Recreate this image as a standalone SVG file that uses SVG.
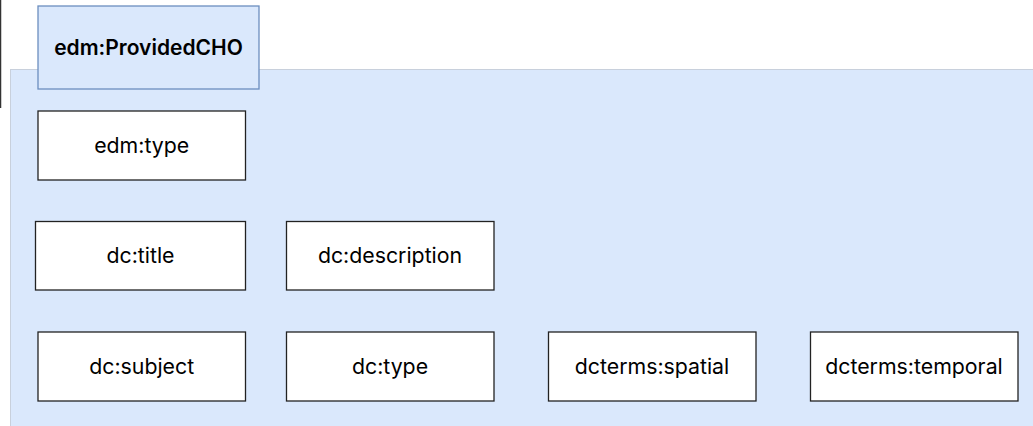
<svg xmlns="http://www.w3.org/2000/svg" width="1033" height="426" viewBox="0 0 1033 426">
<style>
.bg{fill:#dae8fc;stroke:#c8d0dc;stroke-width:1}
.box{fill:#ffffff;stroke:#222222;stroke-width:1.3}
.hdr{fill:#dae8fc;stroke:#6c8ebf;stroke-width:1.3}
text{font-family:Inter,"Liberation Sans",sans-serif;font-size:21.3px;fill:#000000;text-anchor:middle;dominant-baseline:central}
.b{font-weight:600;font-size:21px}
</style>
<rect width="1033" height="426" fill="#ffffff"/>
<line x1="0.5" y1="0" x2="0.5" y2="108" stroke="#333333" stroke-width="1.5"/>
<g id="container"><rect class="bg" x="10.5" y="69.5" width="1030" height="370"/></g>
<g id="providedcho"><rect class="hdr" x="38" y="6" width="221" height="83"/><text class="b" x="148.5" y="47">edm:ProvidedCHO</text></g>
<g id="edm-type"><rect class="box" x="38" y="111" width="207.5" height="69"/><text x="141.7" y="145">edm:type</text></g>
<g id="dc-title"><rect class="box" x="35.5" y="221.5" width="210" height="68.5"/><text x="140.5" y="255">dc:title</text></g>
<g id="dc-description"><rect class="box" x="286.5" y="221.5" width="207.5" height="68.5"/><text x="390" y="255">dc:description</text></g>
<g id="dc-subject"><rect class="box" x="38" y="332" width="207.5" height="69"/><text x="141.7" y="366">dc:subject</text></g>
<g id="dc-type"><rect class="box" x="286.5" y="332" width="207.5" height="69"/><text x="390" y="366">dc:type</text></g>
<g id="dcterms-spatial"><rect class="box" x="548.5" y="332" width="207.5" height="69"/><text x="652" y="366">dcterms:spatial</text></g>
<g id="dcterms-temporal"><rect class="box" x="810.5" y="332" width="207.5" height="69"/><text x="914" y="366">dcterms:temporal</text></g>
<g id="connectors"/>
</svg>
